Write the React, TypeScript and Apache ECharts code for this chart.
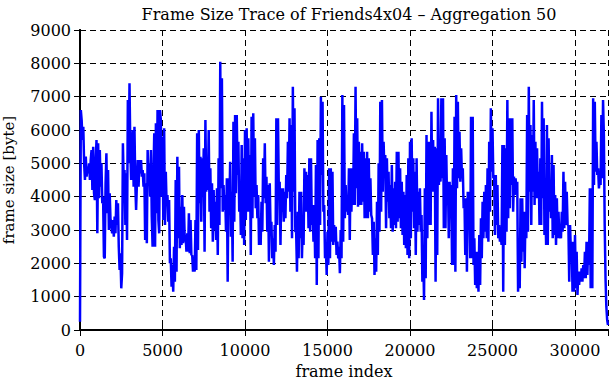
import React, { useEffect, useRef } from 'react';
import * as echarts from 'echarts';

const TITLE = 'Frame Size Trace of Friends4x04 \u2013 Aggregation 50';
const X_NAME = 'frame index';
const Y_NAME = 'frame size [byte]';
const STEP = 50; // frames per aggregated sample

// frames 0 .. 5050
const segA = [
  250, 6600, 6300, 5700, 6100, 5000, 4500, 5200, 4600, 4900,
  4700, 5000, 4500, 5100, 5400, 4200, 5500, 4100, 3900, 5000,
  5700, 2900, 5600, 3950, 5400, 4300, 5000, 3800, 4000, 2200,
  2150, 4400, 5300, 3500, 4800, 3000, 4100, 3300, 3100, 2900,
  3300, 2800, 3400, 2900, 3900, 3150, 3800, 2500, 1800, 2300,
  1250, 1700, 5600, 4400, 4800, 3150, 4700, 2700, 6900, 5000,
  7400, 5400, 4500, 5600, 6000, 4300, 6100, 4400, 3600, 4400,
  5100, 4300, 5100, 4700, 5100, 4600, 4800, 4300, 4700, 2700,
  4400, 2600, 5400, 4500, 5000, 4000, 5400, 3400, 2500, 4600,
  5900, 2500, 6200, 3500, 6600, 3300, 2900, 6600, 6300, 4000,
  5800, 3300,
];
// frames 5100 .. 10250
const segB = [
  6050, 3150, 4750, 3750, 4050, 3250, 3900, 2000, 2150, 1300,
  1950, 1150, 2500, 1450, 4500, 1750, 5200, 2750, 4900, 2450,
  3700, 2550, 4050, 2600, 3700, 2650, 2850, 2350, 2900, 2350,
  3500, 2300, 3300, 2250, 2250, 1750, 2200, 1750, 3300, 1800,
  5900, 2400, 6000, 3800, 5200, 3250, 5150, 4100, 5450, 2350,
  6300, 4150, 5150, 4200, 6000, 3550, 4850, 3050, 4400, 2650,
  4200, 3000, 3850, 2700, 4250, 2250, 5150, 3150, 8050, 4250,
  7550, 3550, 4350, 3600, 4050, 2950, 4550, 1450, 4550, 3600,
  5050, 2800, 4150, 2050, 6250, 3250, 6450, 4100, 6450, 4650,
  5650, 3550, 4150, 2850, 5550, 2750, 5150, 2550, 6000, 3300,
  6050, 3550, 5750, 3550,
];
// frames 10300 .. 15450
const segC = [
  5250, 2250, 6400, 3350, 6500, 4000, 5750, 3650, 4350, 3350,
  4050, 2550, 3350, 2550, 3850, 2950, 5150, 3950, 5600, 3800,
  4600, 2950, 4350, 2050, 4400, 3000, 3250, 2150, 2750, 1950,
  3150, 2350, 6350, 3150, 6350, 4150, 4450, 2550, 4250, 3550,
  4250, 3250, 4150, 3350, 4650, 3950, 5650, 4150, 6350, 3550,
  6150, 2750, 7300, 4150, 6650, 2950, 2950, 1750, 3550, 2150,
  4150, 2750, 4150, 2150, 3150, 2550, 4850, 3550, 4750, 3550,
  4650, 3050, 5150, 2950, 5150, 3150, 3750, 2650, 3750, 2150,
  4950, 1350, 5700, 2150, 5750, 3150, 7000, 4650, 6850, 3550,
  3750, 2150, 2550, 1650, 2950, 1950, 4850, 2150, 4850, 2650,
  4750, 2550, 3150, 2650,
];
// frames 15500 .. 20550
const segD = [
  3100, 2250, 2650, 2150, 2500, 1700, 3000, 2150, 7050, 2650,
  6750, 3350, 4350, 3550, 4050, 3450, 4850, 2700, 4850, 3550,
  4850, 3750, 5900, 3750, 7300, 4250, 6350, 3700, 5650, 3750,
  5350, 3750, 5600, 3850, 5350, 3350, 5150, 3350, 5350, 3350,
  5150, 3550, 4550, 3450, 3350, 2250, 3250, 1650, 2750, 1750,
  3850, 2250, 5000, 2950, 6850, 3550, 6900, 4150, 5650, 4750,
  5250, 3050, 5150, 3850, 4750, 3350, 4350, 3050, 4950, 2950,
  4250, 3150, 4450, 3050, 5350, 3250, 5350, 3350, 4850, 3050,
  4450, 2850, 4150, 2550, 4050, 2450, 4650, 2250, 5150, 2150,
  5650, 2750, 5750, 3550, 5150, 3050, 4750, 2250, 5150, 2950,
  4150, 3150,
];
// frames 20600 .. 25750
const segE = [
  4250, 2950, 3450, 1450, 2350, 900, 4250, 1550, 5850, 2750,
  5650, 3150, 5650, 3150, 6550, 4150, 5700, 4150, 5500, 1450,
  5450, 2250, 6950, 4350, 5150, 4450, 6950, 4550, 6950, 3050,
  5750, 3050, 5250, 3750, 4450, 2750, 4450, 3350, 4350, 1950,
  4850, 1950, 6400, 1750, 7050, 4250, 6850, 4550, 5950, 4450,
  5450, 4550, 4850, 3650, 3950, 2250, 3950, 1750, 4150, 3150,
  4150, 2150, 6400, 2150, 6400, 1950, 2750, 1350, 2350, 1250,
  2350, 1150, 2850, 1350, 3350, 2150, 3850, 2750, 4150, 2950,
  4350, 2750, 4850, 2650, 5650, 3550, 6650, 4750, 6050, 4550,
  4650, 2850, 4650, 3150, 4350, 2750, 3150, 2650, 2850, 2550,
  5550, 1150, 5550, 2550,
];
// frames 25800 .. 32000
const segF = [
  5450, 2950, 6900, 3350, 6350, 3650, 6350, 4350, 6350, 3550,
  4600, 4050, 4550, 4150, 4450, 1150, 2550, 1250, 3950, 2050,
  3950, 2350, 3550, 1850, 3550, 2750, 6450, 2950, 7300, 4150,
  6150, 3150, 5850, 4150, 6900, 3750, 5650, 3950, 5450, 3950,
  4750, 3150, 5150, 3150, 6850, 3950, 6350, 2850, 3750, 2550,
  6150, 2550, 5750, 3550, 4450, 3350, 5250, 2750, 4950, 2850,
  4050, 2550, 3950, 2750, 3550, 2750, 3150, 2750, 3550, 2950,
  4750, 3050, 4450, 3150, 4150, 3150, 3150, 1450, 3150, 2350,
  2650, 1150, 2650, 1150, 2850, 1250, 2350, 1050, 1750, 1350,
  1750, 1450, 1850, 1450, 1950, 1550, 2350, 1550, 2650, 1650,
  2650, 1950, 4250, 1250, 4250, 1250, 6950, 4350, 6850, 4750,
  5650, 4650, 4850, 4250, 4550, 4350, 6450, 4550, 6900, 5850,
  3150, 1550, 700, 300, 150,
];

const X_MIN = 0;
const X_MAX = 32000;
const X_INTERVAL = 5000;
const Y_MIN = 0;
const Y_MAX = 9000;
const Y_INTERVAL = 1000;

const FONT = 'DejaVu Serif, Liberation Serif, serif';

export default function App() {
  const ref = useRef<HTMLDivElement>(null);
  useEffect(() => {
    document.body.style.margin = '0';
    const chart = echarts.init(ref.current!, null, { renderer: 'svg' });
    const values = [...segA, ...segB, ...segC, ...segD, ...segE, ...segF];
    const data = values.map((v, i) => [i * STEP, v]);
    const black = '#000';
    const lbl = { fontFamily: FONT, fontSize: 16, color: black };
    const dashed = { show: true, lineStyle: { color: black, width: 1, type: [6, 4] as any } };
    const axLine = { show: true, lineStyle: { color: black, width: 2 } };
    const tick = { show: true, inside: true, length: 6, lineStyle: { color: black, width: 1 } };
    chart.setOption({
      animation: false,
      title: {
        text: TITLE,
        left: 344,
        top: 1,
        textAlign: 'center',
        textStyle: { fontFamily: FONT, fontSize: 16, fontWeight: 'normal', color: black },
      },
      grid: { left: 80, right: 3, top: 30, bottom: 50, containLabel: false, outerBoundsMode: 'none' },
      xAxis: [
        {
          type: 'value', min: X_MIN, max: X_MAX, interval: X_INTERVAL,
          name: X_NAME, nameLocation: 'middle', nameGap: 33, nameMoveOverlap: false,
          nameTextStyle: { ...lbl, lineHeight: 16 },
          axisLine: axLine, axisTick: tick,
          axisLabel: { ...lbl, lineHeight: 15, margin: 13, showMaxLabel: false,
            formatter: (v: number) => (v % X_INTERVAL === 0 ? String(v) : '') },
          splitLine: dashed,
        },
        {
          type: 'value', position: 'top', min: X_MIN, max: X_MAX, interval: X_INTERVAL,
          axisLine: axLine, axisTick: tick, axisLabel: { show: false }, splitLine: { show: false },
        },
      ],
      yAxis: [
        {
          type: 'value', min: Y_MIN, max: Y_MAX, interval: Y_INTERVAL,
          name: Y_NAME, nameLocation: 'middle', nameGap: 64, nameMoveOverlap: false,
          nameTextStyle: { ...lbl, fontSize: 15 },
          axisLine: axLine, axisTick: tick,
          axisLabel: { ...lbl, margin: 9, padding: [6, 0, 0, 0], formatter: (v: number) => String(v) },
          splitLine: dashed,
        },
        {
          type: 'value', position: 'right', min: Y_MIN, max: Y_MAX, interval: Y_INTERVAL,
          axisLine: axLine, axisTick: tick, axisLabel: { show: false }, splitLine: { show: false },
        },
      ],
      series: [
        {
          type: 'line', data, xAxisIndex: 0, yAxisIndex: 0,
          showSymbol: false, symbol: 'none',
          lineStyle: { color: '#0000ff', width: 2.5 },
        },
      ],
    });
    return () => chart.dispose();
  }, []);
  return <div ref={ref} style={{ width: 611, height: 380 }} />;
}
